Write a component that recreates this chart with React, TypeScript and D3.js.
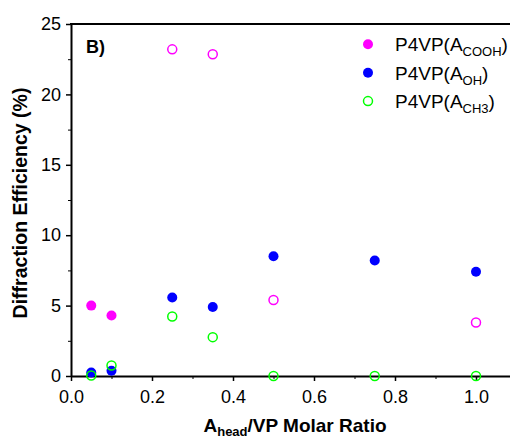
import React, { useEffect, useRef } from 'react';
import * as d3 from 'd3';

// A_head/VP molar ratio and diffraction efficiency (%)
const coohFilledX = [0.05, 0.1];
const coohFilledY = [5.0, 4.3];
const coohOpenX = [0.25, 0.35, 0.5, 1.0];
const coohOpenY = [23.2, 22.85, 5.4, 3.8];
const ohX = [0.05, 0.1, 0.25, 0.35, 0.5, 0.75, 1.0];
const ohY = [0.25, 0.37, 5.58, 4.9, 8.5, 8.2, 7.4];
const ch3X = [0.05, 0.1, 0.25, 0.35, 0.5, 0.75, 1.0];
const ch3Y = [0.03, 0.75, 4.22, 2.76, 0, 0, 0];

const xTicks = [0, 0.2, 0.4, 0.6, 0.8, 1.0];
const xMinor = [0.1, 0.3, 0.5, 0.7, 0.9];
const yTicks = [0, 5, 10, 15, 20, 25];
const yMinor = [2.5, 7.5, 12.5, 17.5, 22.5];

const legendItems = [
  { label: 'COOH', color: '#ff00ff', filled: true },
  { label: 'OH', color: '#0000ff', filled: true },
  { label: 'CH3', color: '#00ff00', filled: false },
];

const FONT = '"Liberation Sans", Arial, sans-serif';

export default function App() {
  const ref = useRef<SVGSVGElement>(null);

  useEffect(() => {
    const svg = d3.select(ref.current);
    svg.selectAll('*').remove();

    const x = d3.scaleLinear().domain([0, 1.1]).range([71, 516.5]);
    const y = d3.scaleLinear().domain([0, 25]).range([376, 24]);

    const g = svg.append('g');

    // minor ticks
    g.append('g')
      .attr('transform', 'translate(0,376)')
      .call(d3.axisBottom(x).tickValues(xMinor).tickSize(3).tickFormat(() => '').tickSizeOuter(0))
      .call((s) => s.select('.domain').remove());
    g.append('g')
      .attr('transform', 'translate(71,0)')
      .call(d3.axisLeft(y).tickValues(yMinor).tickSize(3).tickFormat(() => '').tickSizeOuter(0))
      .call((s) => s.select('.domain').remove());

    // x axis
    const xa = g.append('g')
      .attr('transform', 'translate(0,376)')
      .call(d3.axisBottom(x).tickValues(xTicks).tickSize(5).tickPadding(9).tickSizeOuter(0).tickFormat(d3.format('.1f')));
    // y axis
    const ya = g.append('g')
      .attr('transform', 'translate(71,0)')
      .call(d3.axisLeft(y).tickValues(yTicks).tickSize(5).tickPadding(5).tickSizeOuter(0).tickFormat(d3.format('d')));

    [xa, ya].forEach((a) => {
      a.select('.domain').attr('stroke-width', 2);
      a.selectAll('.tick line').attr('stroke-width', 1.5);
      a.selectAll('.tick text').style('font-family', FONT).style('font-size', '18px').attr('fill', '#000');
    });
    g.selectAll('.tick line').attr('stroke', '#000');

    // top frame line
    g.append('line')
      .attr('x1', 70).attr('x2', 520)
      .attr('y1', y(25)).attr('y2', y(25))
      .attr('stroke', '#000').attr('stroke-width', 2);

    const marks = g.append('g');
    marks.selectAll('.cf').data(coohFilledX).enter().append('circle')
      .attr('cx', (d) => x(d)).attr('cy', (d, i) => y(coohFilledY[i]))
      .attr('r', 5).attr('fill', '#ff00ff');
    marks.selectAll('.oh').data(ohX).enter().append('circle')
      .attr('cx', (d) => x(d)).attr('cy', (d, i) => y(ohY[i]))
      .attr('r', 5).attr('fill', '#0000ff');
    marks.selectAll('.ch3').data(ch3X).enter().append('circle')
      .attr('cx', (d) => x(d)).attr('cy', (d, i) => y(ch3Y[i]))
      .attr('r', 4.5).attr('fill', 'none').attr('stroke', '#00ff00').attr('stroke-width', 1.5);
    marks.selectAll('.co').data(coohOpenX).enter().append('circle')
      .attr('cx', (d) => x(d)).attr('cy', (d, i) => y(coohOpenY[i]))
      .attr('r', 4.5).attr('fill', 'none').attr('stroke', '#ff00ff').attr('stroke-width', 1.5);

    // panel label
    g.append('text').attr('x', 86).attr('y', 53)
      .style('font-family', FONT).style('font-size', '18px').style('font-weight', 'bold')
      .text('B)');

    // legend
    const leg = g.append('g');
    legendItems.forEach((it, i) => {
      const cy = 44.3 + i * 28.4;
      leg.append('circle')
        .attr('cx', 368).attr('cy', cy).attr('r', it.filled ? 5 : 4.5)
        .attr('fill', it.filled ? it.color : 'none')
        .attr('stroke', it.filled ? 'none' : it.color).attr('stroke-width', 1.5);
      const t = leg.append('text').attr('x', 395).attr('y', cy + 6.8)
        .style('font-family', FONT).style('font-size', '19px').attr('fill', '#000');
      t.append('tspan').text('P4VP(A');
      t.append('tspan').attr('dy', 5).style('font-size', '13px').text(it.label);
      t.append('tspan').attr('dy', -5).text(')');
    });

    // axis titles
    const xt = g.append('text').attr('x', 295).attr('y', 432).attr('text-anchor', 'middle')
      .style('font-family', FONT).style('font-size', '19px').style('font-weight', 'bold');
    xt.append('tspan').text('A');
    xt.append('tspan').attr('dy', 4).style('font-size', '13px').text('head');
    xt.append('tspan').attr('dy', -4).text('/VP Molar Ratio');

    g.append('text').attr('transform', 'translate(27,203) rotate(-90)').attr('text-anchor', 'middle')
      .style('font-family', FONT).style('font-size', '19.5px').style('font-weight', 'bold')
      .text('Diffraction Efficiency (%)');
  }, []);

  return (
    <svg
      ref={ref}
      width={510}
      height={439}
      style={{ position: 'absolute', left: 0, top: 0, background: '#fff' }}
    />
  );
}
